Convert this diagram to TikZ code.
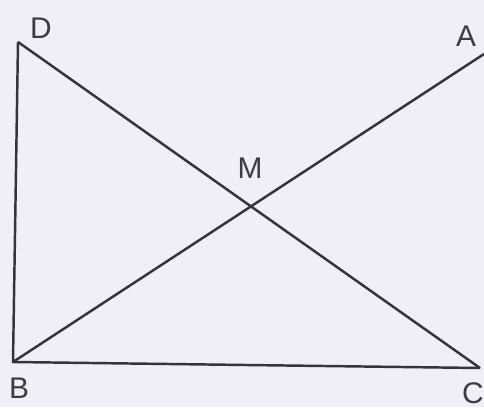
\documentclass[tikz,border=0pt]{standalone}
\usepackage{fontspec}
\setmainfont{Liberation Sans}
\usepackage{tikz}
\definecolor{paperLilac}{RGB}{240, 238, 247}
\definecolor{lineGray}{RGB}{52, 52, 62}
\definecolor{labelGray}{RGB}{60, 60, 70}

\begin{document}
\begin{tikzpicture}[scale=1,
    edge/.style={lineGray, line width=1.4pt},
    lbl/.style={labelGray, font=\fontsize{17}{19}\selectfont, inner sep=0pt}]
      \fill[paperLilac] (0,0) rectangle (9.68,8.14);
      \useasboundingbox (0,0) rectangle (9.68,8.14);

      \coordinate (D) at (0.36,7.30);
      \coordinate (A) at (9.68,7.06);
      \coordinate (B) at (0.26,0.90);
      \coordinate (C) at (9.60,0.78);
      \coordinate (M) at (intersection of D--C and B--A);

      \draw[edge] (D) -- (B) -- (C);
      \draw[edge] (D) -- (C);
      \draw[edge] (B) -- (A);

      \node[lbl] (lD) at (0.82,7.58) {D};
      \node[lbl] (lA) at (9.32,7.42) {A};
      \node[lbl] (lB) at (0.38,0.38) {B};
      \node[lbl] (lC) at (9.46,0.28) {C};
      \node[lbl] (lM) at (5.00,4.78) {M};
    \end{tikzpicture}
\end{document}
